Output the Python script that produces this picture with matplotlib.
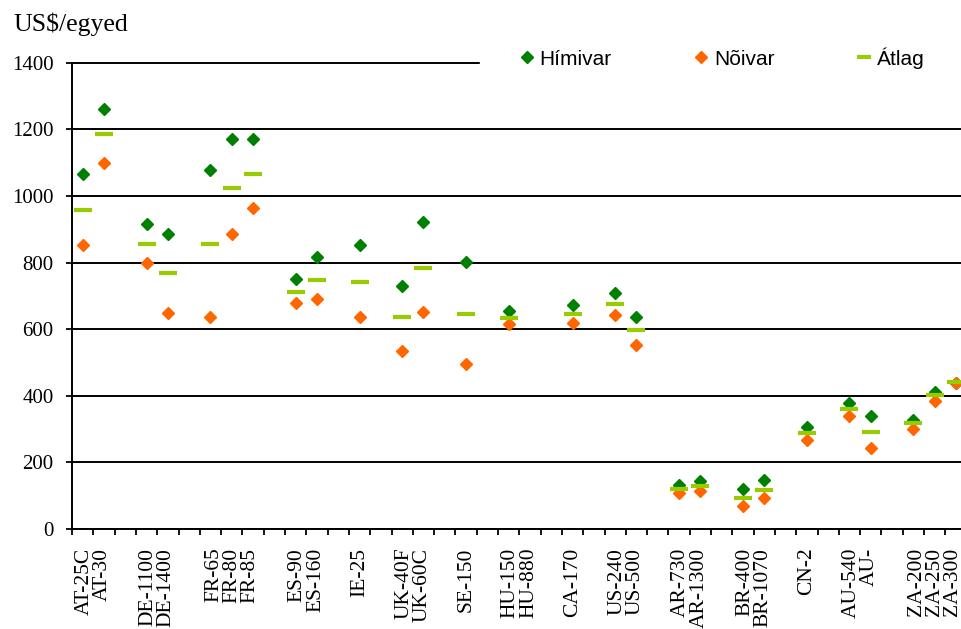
import matplotlib
matplotlib.use('Agg')
import matplotlib.pyplot as plt
import numpy as np
from matplotlib.lines import Line2D
from matplotlib.patches import Rectangle

N = None
categories = ['AT-25C', 'AT-30', '', 'DE-1100', 'DE-1400', '',
              'FR-65', 'FR-80', 'FR-85', '', 'ES-90', 'ES-160', '',
              'IE-25', '', 'UK-40F', 'UK-60C', '', 'SE-150', '',
              'HU-150', 'HU-880', '', 'CA-170', '', 'US-240', 'US-500', '',
              'AR-730', 'AR-1300', '', 'BR-400', 'BR-1070', '', 'CN-2', '',
              'AU-540', 'AU-', '', 'ZA-200', 'ZA-250', 'ZA-300']
himivar = [1067, 1260, N, 916, 887, N, 1079, 1172, 1172, N, 751, 817, N,
           853, N, 730, 921, N, 803, N, 653, N, N, 671, N, 708, 636, N,
           133, 143, N, 120, 148, N, 307, N, 378, 340, N, 326, 410, 439]
noivar = [854, 1098, N, 800, 648, N, 636, 886, 964, N, 678, 691, N,
          637, N, 535, 652, N, 495, N, 616, N, N, 618, N, 643, 552, N,
          108, 115, N, 68, 93, N, 266, N, 338, 242, N, 300, 385, 438]
atlag = [958, 1186, N, 857, 768, N, 857, 1024, 1067, N, 712, 749, N,
         743, N, 635, 785, N, 645, N, 633, N, N, 646, N, 676, 597, N,
         120, 128, N, 93, 118, N, 288, N, 360, 292, N, 317, 402, 440]
yticks = [0, 200, 400, 600, 800, 1000, 1200, 1400]

GREEN = '#008000'
ORANGE = '#FF6600'
LIME = '#99CC00'


def to_arr(vals):
    return np.array([np.nan if v is None else v for v in vals], dtype=float)


fig = plt.figure(figsize=(9.62, 6.29), dpi=100)
ax = fig.add_axes([72 / 962, 1 - 529 / 629, 894.6 / 962, 468 / 629])

x = np.arange(len(categories))
ax.plot(x, to_arr(himivar), ls='none', marker='D', ms=6.5, color=GREEN, zorder=3)
ax.plot(x, to_arr(noivar), ls='none', marker='D', ms=6.5, color=ORANGE, zorder=3)
ax.plot(x, to_arr(atlag), ls='none', marker='_', ms=12.5, mew=3, color=LIME, zorder=4)

ax.set_xlim(-0.5, len(categories) - 0.5)
ax.set_ylim(0, 1405)
ax.set_yticks(yticks)
ax.set_yticklabels([str(v) for v in yticks], family='Liberation Serif', fontsize=15)
ax.yaxis.grid(True, color='black', lw=1.4)
ax.set_axisbelow(True)
for s in ['top', 'right']:
    ax.spines[s].set_visible(False)
ax.spines['left'].set_bounds(0, 1400)
ax.spines['left'].set_linewidth(1.4)
ax.spines['bottom'].set_linewidth(1.4)
ax.tick_params(axis='y', length=4.3, width=1.3, pad=9)
ax.set_xticks(np.arange(-0.5, len(categories) + 0.5, 1))
ax.tick_params(axis='x', length=4.3, width=1.3, labelbottom=False)

# group labels: consecutive names stacked as one rotated multi-line label
groups = []
cur = []
for i, c in enumerate(categories):
    if c:
        cur.append(i)
    elif cur:
        groups.append(cur)
        cur = []
if cur:
    groups.append(cur)
for g in groups:
    ax.annotate('\n'.join(categories[i] for i in g),
                xy=(np.mean(g), 0), xycoords=('data', 'axes fraction'),
                xytext=(0, -13.5), textcoords='offset points',
                rotation=90, ha='center', va='top', multialignment='right',
                family='Liberation Serif', fontsize=15.5, linespacing=0.95,
                annotation_clip=False)

fig.text(13 / 962, 1 - 12 / 629, 'US$/egyed', ha='left', va='top',
         family='Liberation Serif', fontsize=18.5)

# white legend background hides the top gridline on the right
fig.add_artist(Rectangle((480 / 962, 1 - 72 / 629), 0.6, 20 / 629,
                         transform=fig.transFigure, color='white', zorder=3))

handles = [Line2D([], [], ls='none', marker='D', ms=6.5, color=GREEN),
           Line2D([], [], ls='none', marker='D', ms=6.5, color=ORANGE),
           Line2D([], [], ls='none', marker='_', ms=10, mew=3, color=LIME)]
fig.legend(handles, ['Hímivar', 'Nõivar', 'Átlag'], loc='center left',
           bbox_to_anchor=(521 / 962, 1 - 58 / 629), ncol=3, frameon=False,
           prop={'family': 'Liberation Sans', 'size': 15},
           handlelength=0.6, handletextpad=0.3, columnspacing=4.0,
           borderpad=0, borderaxespad=0)

fig.savefig('out.png', dpi=100)
